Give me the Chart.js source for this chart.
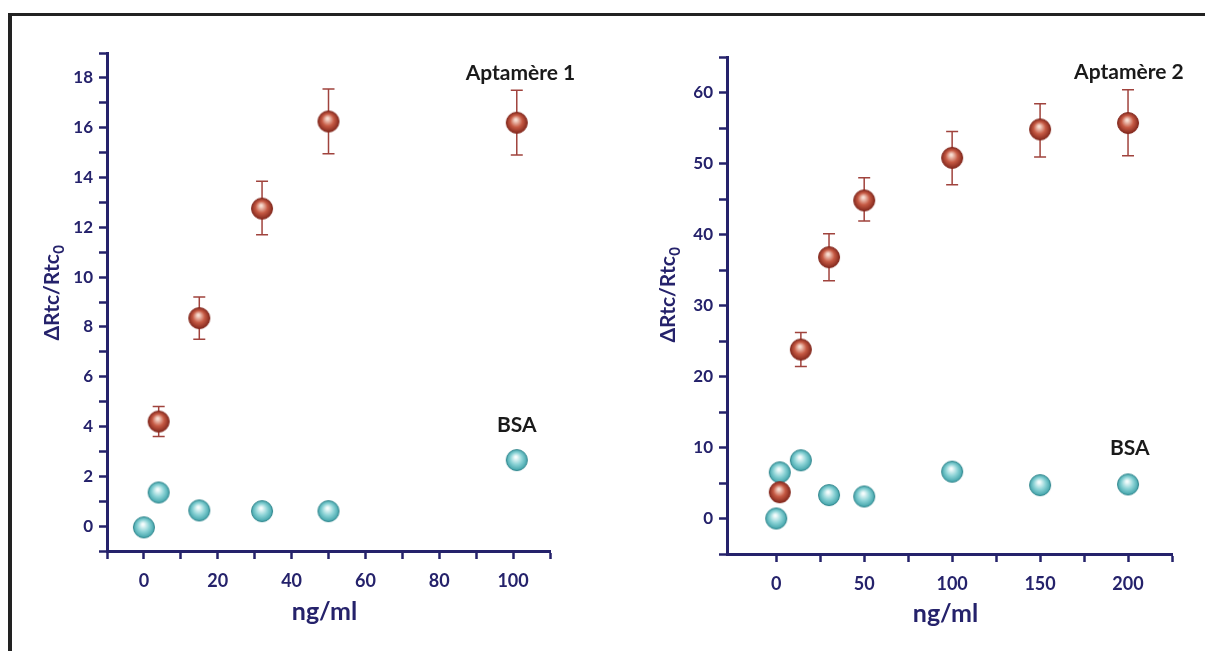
<!DOCTYPE html>
<html lang="fr">
<head>
<meta charset="UTF-8" />
<title>ΔRtc/Rtc0 - Aptamère 1 et 2</title>
<script src="https://cdn.jsdelivr.net/npm/chart.js"></script>
<style>
  html, body { margin: 0; padding: 0; background: #fff; overflow: hidden; }
  body { width: 1205px; height: 651px; position: relative; }
  #frame { position: absolute; left: 8px; top: 13px; width: 1300px; height: 700px;
           border-top: 3px solid #222; border-left: 4px solid #222; }
  #c1 { position: absolute; left: 0; top: 0; }
  #c2 { position: absolute; left: 600px; top: 0; }
</style>
</head>
<body>
<div id="frame"></div>
<canvas id="c1" width="600" height="651"></canvas>
<canvas id="c2" width="605" height="651"></canvas>

<script>
// Aptamère 1 (gauche)
const apt1X  = [4, 15, 32, 50, 101];
const apt1Y  = [4.2, 8.35, 12.75, 16.25, 16.2];
const apt1Lo = [3.6, 7.5, 11.7, 14.95, 14.9];
const apt1Hi = [4.8, 9.2, 13.85, 17.55, 17.5];
const bsa1X  = [0, 4, 15, 32, 50, 101];
const bsa1Y  = [-0.05, 1.35, 0.63, 0.6, 0.6, 2.65];

// Aptamère 2 (droite)
const apt2X  = [2, 14, 30, 50, 100, 150, 200];
const apt2Y  = [3.7, 23.8, 36.8, 44.8, 50.8, 54.8, 55.7];
const apt2Lo = [2.5, 21.4, 33.5, 41.9, 47.0, 50.9, 51.1];
const apt2Hi = [4.5, 26.2, 40.1, 48.0, 54.5, 58.4, 60.4];
const bsa2X  = [0, 2, 14, 30, 50, 100, 150, 200];
const bsa2Y  = [0, 6.5, 8.2, 3.3, 3.1, 6.6, 4.7, 4.8];

const navy = '#25226b';
const FONT = 'Lato, "Open Sans", sans-serif';

// boule avec reflet, utilisée comme pointStyle
function sphere(light, mid, dark, edge) {
  const c = document.createElement('canvas');
  c.width = c.height = 24;
  const g = c.getContext('2d');
  const grad = g.createRadialGradient(11, 9, 1, 12, 12, 11);
  grad.addColorStop(0, light);
  grad.addColorStop(0.5, mid);
  grad.addColorStop(1, dark);
  g.beginPath();
  g.arc(12, 12, 10.5, 0, Math.PI * 2);
  g.fillStyle = grad;
  g.fill();
  g.lineWidth = 1;
  g.strokeStyle = edge;
  g.stroke();
  return c;
}
const redBall  = sphere('#f7dcd0', '#c65a44', '#80251a', '#84291e');
const tealBall = sphere('#f4fcfc', '#8ad2d5', '#3a9fa6', '#2f858c');

function pts(xs, ys) { return xs.map((x, i) => ({ x: x, y: ys[i] })); }

// barres d'erreur
const errorBars = {
  id: 'errorBars',
  beforeDatasetsDraw(chart) {
    const ctx = chart.ctx, xs = chart.scales.x, ys = chart.scales.y;
    chart.data.datasets.forEach(ds => {
      if (!ds.errLo) return;
      ctx.save();
      ctx.strokeStyle = '#a0433d';
      ctx.lineWidth = 1.5;
      ds.data.forEach((p, i) => {
        const px = xs.getPixelForValue(p.x);
        const y1 = ys.getPixelForValue(ds.errLo[i]);
        const y2 = ys.getPixelForValue(ds.errHi[i]);
        ctx.beginPath();
        ctx.moveTo(px, y1); ctx.lineTo(px, y2);
        ctx.moveTo(px - 6, y1); ctx.lineTo(px + 6, y1);
        ctx.moveTo(px - 6, y2); ctx.lineTo(px + 6, y2);
        ctx.stroke();
      });
      ctx.restore();
    });
  }
};

// titres d'axes et étiquettes
const texts = {
  id: 'texts',
  afterDraw(chart, args, opts) {
    const ctx = chart.ctx, xs = chart.scales.x, ys = chart.scales.y;
    ctx.save();
    // titre axe y avec indice
    ctx.fillStyle = navy;
    ctx.translate(opts.yTitleX, opts.yTitleY);
    ctx.rotate(-Math.PI / 2);
    ctx.font = 'bold 21px ' + FONT;
    const main = 'ΔRtc/Rtc';
    const w1 = ctx.measureText(main).width;
    ctx.font = 'bold 15px ' + FONT;
    const w2 = ctx.measureText('0').width;
    const start = -(w1 + w2) / 2;
    ctx.textBaseline = 'alphabetic';
    ctx.textAlign = 'left';
    ctx.font = 'bold 21px ' + FONT;
    ctx.fillText(main, start, 7);
    ctx.font = 'bold 15px ' + FONT;
    ctx.fillText('0', start + w1 + 0.5, 12);
    ctx.restore();

    ctx.save();
    ctx.fillStyle = navy;
    ctx.font = 'bold 25px ' + FONT;
    ctx.textAlign = 'center';
    ctx.textBaseline = 'middle';
    ctx.fillText('ng/ml', (chart.chartArea.left + chart.chartArea.right) / 2 + opts.xTitleDx, opts.xTitleY);

    ctx.fillStyle = '#1a1a1a';
    ctx.font = 'bold 21px ' + FONT;
    opts.notes.forEach(n => {
      ctx.fillText(n.text, xs.getPixelForValue(n.x), ys.getPixelForValue(n.y));
    });
    ctx.restore();
  }
};

function axisX(min, max, step, every, lo, hi, h, filterNeg) {
  return {
    type: 'linear', min: min, max: max,
    afterFit(s) { s.height = h; },
    afterBuildTicks(s) { if (filterNeg) s.ticks = s.ticks.filter(t => t.value >= 0); },
    grid: { drawOnChartArea: false, drawTicks: true, tickLength: 8, tickColor: navy, tickWidth: 2.5 },
    border: { display: true, color: navy, width: 3 },
    ticks: {
      stepSize: step, includeBounds: false, autoSkip: false, maxRotation: 0, padding: 11,
      color: navy, font: { family: FONT, size: 18, weight: 'bold' },
      callback: v => (v % every === 0 && v >= lo && v <= hi) ? String(v) : ''
    }
  };
}
function axisY(min, max, step, every, lo, hi, w) {
  return {
    type: 'linear', min: min, max: max,
    afterFit(s) { s.width = w; },
    grid: { drawOnChartArea: false, drawTicks: true, tickLength: 8, tickColor: navy, tickWidth: 2.5 },
    border: { display: true, color: navy, width: 3 },
    ticks: {
      stepSize: step, includeBounds: false, autoSkip: false, padding: 6,
      color: navy, font: { family: FONT, size: 17, weight: 'bold' },
      callback: v => (v % every === 0 && v >= lo && v <= hi) ? String(v) : ''
    }
  };
}

function makeChart(id, apt, bsa, scales, padding, textOpts) {
  return new Chart(document.getElementById(id), {
    type: 'scatter',
    data: {
      datasets: [
        Object.assign({ label: 'Aptamère', pointStyle: redBall, pointRadius: 11 }, apt),
        Object.assign({ label: 'BSA', pointStyle: tealBall, pointRadius: 11 }, bsa)
      ]
    },
    options: {
      responsive: false,
      animation: false,
      layout: { padding: padding },
      plugins: { legend: { display: false }, tooltip: { enabled: false }, texts: textOpts },
      scales: scales
    },
    plugins: [errorBars, texts]
  });
}

makeChart('c1',
  { data: pts(apt1X, apt1Y), errLo: apt1Lo, errHi: apt1Hi },
  { data: pts(bsa1X, bsa1Y) },
  { x: axisX(-10, 110, 10, 20, 0, 100, 100, false), y: axisY(-1, 19, 1, 2, 0, 18, 107) },
  { top: 53, right: 50, bottom: 0, left: 0 },
  { yTitleX: 52, yTitleY: 293, xTitleY: 612, xTitleDx: -4,
    notes: [{ text: 'Aptamère 1', x: 102, y: 18.2 }, { text: 'BSA', x: 101, y: 4.05 }] }
);

makeChart('c2',
  { data: pts(apt2X, apt2Y), errLo: apt2Lo, errHi: apt2Hi },
  { data: pts(bsa2X, bsa2Y) },
  { x: axisX(-28, 225, 25, 50, 0, 200, 97, true), y: axisY(-5, 65, 5, 10, 0, 60, 127) },
  { top: 57, right: 33, bottom: 0, left: 0 },
  { yTitleX: 68, yTitleY: 295, xTitleY: 614, xTitleDx: -4,
    notes: [{ text: 'Aptamère 2', x: 200.5, y: 62.8 }, { text: 'BSA', x: 201, y: 9.9 }] }
);
</script>
</body>
</html>
